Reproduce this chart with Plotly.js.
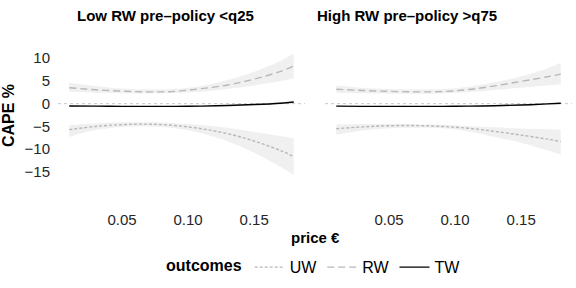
<!DOCTYPE html>
<html>
<head>
<meta charset="utf-8">
<script src="https://cdn.plot.ly/plotly-3.0.1.min.js"></script>
<style>html,body{margin:0;padding:0;background:#fff;}#chart{width:576px;height:288px;}</style>
</head>
<body>
<div id="chart"></div>
<script>
// ---- data ----
const price = [0.01, 0.03, 0.05, 0.07, 0.09, 0.11, 0.13, 0.15, 0.17, 0.18];
const panelTitles = ["Low RW pre\u2013policy <q25", "High RW pre\u2013policy >q75"];
const outcomes = ["UW", "RW", "TW"];
const xTickVals = [0.05, 0.10, 0.15];
const xTickText = ["0.05", "0.10", "0.15"];
const yTickVals = [-15, -10, -5, 0, 5, 10];

// Low RW panel
const lowRW      = [3.5, 3.05, 2.75, 2.6, 2.7, 3.3, 4.1, 5.4, 7.1, 8.3];
const lowRWhi    = [4.6, 3.9, 3.35, 3.15, 3.25, 3.9, 5.2, 7.0, 9.4, 11.0];
const lowRWlo    = [2.6, 2.4, 2.3, 2.25, 2.35, 2.6, 3.2, 4.0, 4.9, 5.5];
const lowUW      = [-5.7, -5.0, -4.6, -4.5, -4.8, -5.5, -6.6, -8.2, -10.3, -11.6];
const lowUWhi    = [-4.7, -4.3, -4.1, -4.1, -4.3, -4.7, -5.3, -6.2, -7.1, -7.6];
const lowUWlo    = [-7.3, -5.8, -5.1, -5.0, -5.4, -6.5, -8.3, -10.8, -13.9, -15.6];
const lowTW      = [-0.5, -0.55, -0.6, -0.6, -0.6, -0.55, -0.4, -0.2, 0.1, 0.35];
const lowTWhi    = [-0.35, -0.45, -0.5, -0.5, -0.5, -0.42, -0.25, 0.0, 0.35, 0.6];
const lowTWlo    = [-0.65, -0.65, -0.7, -0.7, -0.7, -0.68, -0.55, -0.4, -0.15, 0.1];

// High RW panel
const highRW     = [3.15, 2.9, 2.7, 2.6, 2.65, 3.1, 3.9, 4.9, 5.9, 6.5];
const highRWhi   = [4.0, 3.5, 3.2, 3.15, 3.2, 3.7, 4.7, 6.0, 7.8, 9.0];
const highRWlo   = [2.4, 2.3, 2.2, 2.2, 2.25, 2.5, 3.0, 3.5, 4.0, 4.2];
const highUW     = [-5.5, -5.1, -4.85, -4.8, -5.0, -5.4, -6.1, -6.9, -7.8, -8.3];
const highUWhi   = [-4.5, -4.45, -4.45, -4.5, -4.65, -4.9, -5.2, -5.45, -5.6, -5.7];
const highUWlo   = [-6.85, -5.9, -5.4, -5.3, -5.4, -6.1, -7.3, -8.6, -10.3, -11.2];
const highTW     = [-0.55, -0.6, -0.6, -0.6, -0.6, -0.55, -0.45, -0.3, -0.05, 0.1];
const highTWhi   = [-0.4, -0.5, -0.5, -0.5, -0.5, -0.43, -0.3, -0.1, 0.2, 0.35];
const highTWlo   = [-0.7, -0.7, -0.7, -0.7, -0.7, -0.67, -0.6, -0.5, -0.3, -0.15];

// ---- styles ----
const bandFill = "rgba(0,0,0,0.06)";
const greyLine = "#B8B8B8";
const styles = {
  UW: {color: greyLine, dash: "3px,2px", width: 1.4},
  RW: {color: greyLine, dash: "7px,4px", width: 1.4},
  TW: {color: "#000000", dash: "solid", width: 1.4}
};

const traces = [];
function band(lo, hi, xa) {
  traces.push({x: price, y: lo, xaxis: xa, yaxis: "y", mode: "lines", line: {width: 0, shape: "spline"}, showlegend: false, hoverinfo: "skip"});
  traces.push({x: price, y: hi, xaxis: xa, yaxis: "y", mode: "lines", line: {width: 0, shape: "spline"}, fill: "tonexty", fillcolor: bandFill, showlegend: false, hoverinfo: "skip"});
}
function line(y, name, xa, show) {
  const s = styles[name];
  traces.push({x: price, y: y, xaxis: xa, yaxis: "y", mode: "lines", name: name, legendgroup: name,
    line: {color: s.color, dash: s.dash, width: s.width, shape: "spline"}, showlegend: show});
}
band(lowUWlo, lowUWhi, "x"); band(lowRWlo, lowRWhi, "x"); band(lowTWlo, lowTWhi, "x");
band(highUWlo, highUWhi, "x2"); band(highRWlo, highRWhi, "x2"); band(highTWlo, highTWhi, "x2");
line(lowUW, "UW", "x", true); line(lowRW, "RW", "x", true); line(lowTW, "TW", "x", true);
line(highUW, "UW", "x2", false); line(highRW, "RW", "x2", false); line(highTW, "TW", "x2", false);

const font = "Liberation Sans, Arial, sans-serif";
const xCommon = {
  range: [0.0015, 0.1885], tickvals: xTickVals, ticktext: xTickText,
  showgrid: false, zeroline: false, showline: false,
  ticks: "outside", ticklen: 4, tickcolor: "rgba(0,0,0,0)",
  tickfont: {family: font, size: 15, color: "#262626"}, anchor: "y"
};
const layout = {
  width: 576, height: 288,
  margin: {l: 58, r: 4, t: 29, b: 84},
  paper_bgcolor: "#ffffff", plot_bgcolor: "#ffffff",
  font: {family: font, color: "#000000"},
  xaxis: Object.assign({}, xCommon, {domain: [0, 0.4805]}),
  xaxis2: Object.assign({}, xCommon, {domain: [0.5195, 1]}),
  yaxis: {
    range: [-21.6, 16.4], tickvals: yTickVals, showgrid: false, zeroline: false, showline: false,
    ticks: "outside", ticklen: 4, tickcolor: "rgba(0,0,0,0)",
    tickfont: {family: font, size: 15, color: "#262626"},
    title: {text: "<b>CAPE %</b>", font: {family: font, size: 16, color: "#000"}, standoff: 6}
  },
  shapes: [
    {type: "line", xref: "x domain", yref: "y", x0: 0, x1: 1, y0: 0, y1: 0, layer: "below", line: {color: "#C8C8C8", width: 1, dash: "3px,3px"}},
    {type: "line", xref: "x2 domain", yref: "y", x0: 0, x1: 1, y0: 0, y1: 0, layer: "below", line: {color: "#C8C8C8", width: 1, dash: "3px,3px"}}
  ],
  annotations: [
    {text: "<b>" + panelTitles[0] + "</b>", xref: "paper", yref: "paper", x: 0.2082, y: 1.08, xanchor: "center", yanchor: "middle", showarrow: false, font: {family: font, size: 15, color: "#000"}},
    {text: "<b>" + panelTitles[1] + "</b>", xref: "paper", yref: "paper", x: 0.679, y: 1.08, xanchor: "center", yanchor: "middle", showarrow: false, font: {family: font, size: 15, color: "#000"}},
    {text: "<b>price \u20ac</b>", xref: "paper", yref: "paper", x: 0.5, y: -0.206, xanchor: "center", yanchor: "middle", showarrow: false, font: {family: font, size: 15, color: "#000"}}
  ],
  showlegend: true,
  legend: {
    orientation: "h", x: 0.5, xanchor: "center", y: -0.377, yanchor: "middle",
    title: {text: "<b>outcomes</b>", side: "left", font: {family: font, size: 16, color: "#000"}},
    font: {family: font, size: 16, color: "#000"}, itemwidth: 30, traceorder: "normal",
    bgcolor: "rgba(0,0,0,0)"
  }
};
Plotly.newPlot("chart", traces, layout, {displayModeBar: false, staticPlot: true});
</script>
</body>
</html>
